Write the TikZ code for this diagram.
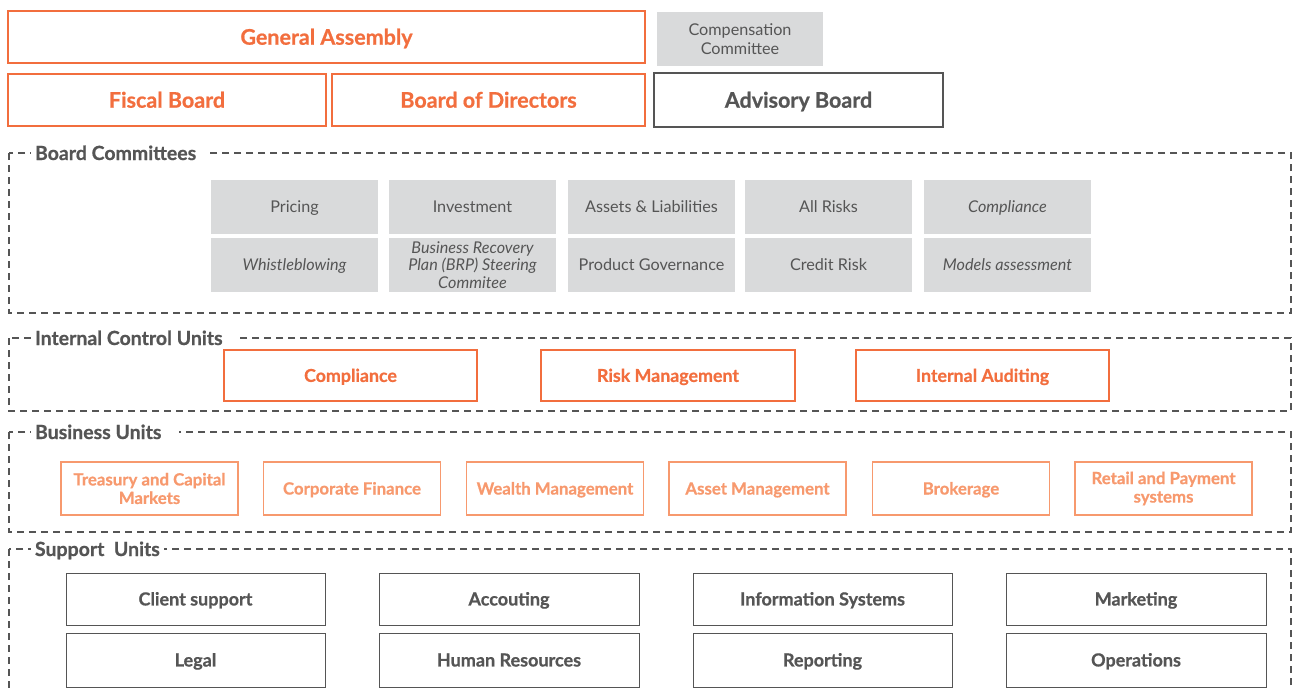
\documentclass[tikz,border=0pt]{standalone}
\usepackage{fontspec}
\setmainfont{Lato}[BoldFeatures={FakeBold=0.7}]
\definecolor{orangeA}{HTML}{F26E3E}
\definecolor{orangeB}{HTML}{F7996E}
\definecolor{inkgray}{HTML}{555555}
\definecolor{cellgray}{HTML}{D9DADB}
\begin{document}
\begin{tikzpicture}[x=1pt,y=-1pt,
  every node/.style={inner sep=0pt, outer sep=0pt, align=center},
  cap/.style={text height=#1, text depth=0pt},
  multiline/.style={text height={}, text depth={}},
  govbox/.style={cap=15.4pt, draw=orangeA, line width=1.5pt, text=orangeA,
    font=\fontsize{21.5}{24}\selectfont\bfseries},
  advbox/.style={cap=15.4pt, draw=inkgray, line width=1.3pt, text=inkgray,
    font=\fontsize{21.5}{24}\selectfont\bfseries},
  cell/.style={cap=11.6pt, fill=cellgray, text=inkgray, minimum width=167pt, minimum height=54pt,
    font=\fontsize{16.2}{17.5}\selectfont},
  itcell/.style={cell, font=\fontsize{16.2}{17.5}\selectfont\itshape},
  ctrlbox/.style={cap=12.8pt, draw=orangeA, line width=1.5pt, text=orangeA, minimum width=253pt,
    minimum height=51pt, font=\fontsize{17.8}{20}\selectfont\bfseries},
  unitbox/.style={cap=12pt, draw=orangeB, line width=1.2pt, text=orangeB, minimum width=177pt,
    minimum height=53pt, font=\fontsize{16.8}{18.5}\selectfont\bfseries},
  supbox/.style={cap=12.9pt, draw=inkgray, line width=1pt, text=inkgray, minimum width=259pt,
    font=\fontsize{18}{20}\selectfont\bfseries},
  frame/.style={draw=inkgray, line width=1.3pt, dash pattern=on 7pt off 5pt},
  frametitle/.style={cap=14pt, fill=white, anchor=west, inner xsep=4pt, inner ysep=3pt,
    text=inkgray, font=\fontsize{19.5}{22}\selectfont\bfseries}
]
\useasboundingbox (0,0) rectangle (1293,688);

% governance bodies
\node[govbox, minimum width=637pt, minimum height=52pt] (ga) at (326.5,37) {General Assembly};
\node[fill=cellgray, text=inkgray, minimum width=166pt, minimum height=54pt,
  font=\fontsize{16.2}{18.5}\selectfont] (comp) at (740,39) {Compensation\\Committee};
\node[govbox, minimum width=318pt, minimum height=52pt] (fiscal) at (167,100) {Fiscal Board};
\node[govbox, minimum width=313pt, minimum height=52pt] (bod) at (488.5,100) {Board of Directors};
\node[advbox, minimum width=289pt, minimum height=54pt] (adv) at (798.5,100) {Advisory Board};

% group frames
\draw[frame] (9,153) rectangle (1291,313);
\draw[frame] (9,338) rectangle (1291,411);
\draw[frame] (9,432) rectangle (1291,532);
\draw[frame] (9,549) rectangle (1291,720);
\node[frametitle] (tbc) at (31,153) {Board Committees\hspace{9pt}};
\node[frametitle] (ticu) at (31,338) {Internal Control Units\hspace{9pt}};
\node[frametitle] (tbu) at (31,432) {Business Units\hspace{14pt}};
\node[frametitle] (tsu) at (31,549) {Support\ \ Units};

% board committees
\node[cell] (pricing) at (294.5,207) {Pricing};
\node[cell] (invest) at (472.5,207) {Investment};
\node[cell] (assets) at (651.5,207) {Assets \& Liabilities};
\node[cell] (allrisk) at (828.5,207) {All Risks};
\node[itcell] (ccomp) at (1007.5,207) {Compliance};
\node[itcell] (whistle) at (294.5,265) {Whistleblowing};
\node[itcell, multiline] (brp) at (472.5,265) {Business Recovery\\Plan (BRP) Steering\\Commitee};
\node[cell] (prodgov) at (651.5,265) {Product Governance};
\node[cell] (credit) at (828.5,265) {Credit Risk};
\node[itcell] (models) at (1007.5,265) {Models assessment};

% internal control units
\node[ctrlbox] (icomp) at (350.5,375.5) {Compliance};
\node[ctrlbox, minimum width=254pt] (irisk) at (668,375.5) {Risk Management};
\node[ctrlbox] (iaudit) at (982.5,375.5) {Internal Auditing};

% business units
\node[unitbox, multiline] (treasury) at (149.5,488.5) {Treasury and Capital\\Markets};
\node[unitbox] (corpfin) at (352,488.5) {Corporate Finance};
\node[unitbox] (wealth) at (555,488.5) {Wealth Management};
\node[unitbox] (assetm) at (757.5,488.5) {Asset Management};
\node[unitbox] (broker) at (961,488.5) {Brokerage};
\node[unitbox, multiline] (retail) at (1163.5,488.5) {Retail and Payment\\systems};

% support units
\node[supbox, minimum height=52pt] (client) at (195.5,599) {Client support};
\node[supbox, minimum height=52pt, minimum width=260pt] (acct) at (509,599) {Accouting};
\node[supbox, minimum height=52pt] (infosys) at (822.5,599) {Information Systems};
\node[supbox, minimum height=52pt, minimum width=260pt] (mkt) at (1136,599) {Marketing};
\node[supbox, minimum height=54pt] (legal) at (195.5,660) {Legal};
\node[supbox, minimum height=54pt, minimum width=260pt] (hr) at (509,660) {Human Resources};
\node[supbox, minimum height=54pt] (report) at (822.5,660) {Reporting};
\node[supbox, minimum height=54pt, minimum width=260pt] (ops) at (1136,660) {Operations};
\end{tikzpicture}
\end{document}
